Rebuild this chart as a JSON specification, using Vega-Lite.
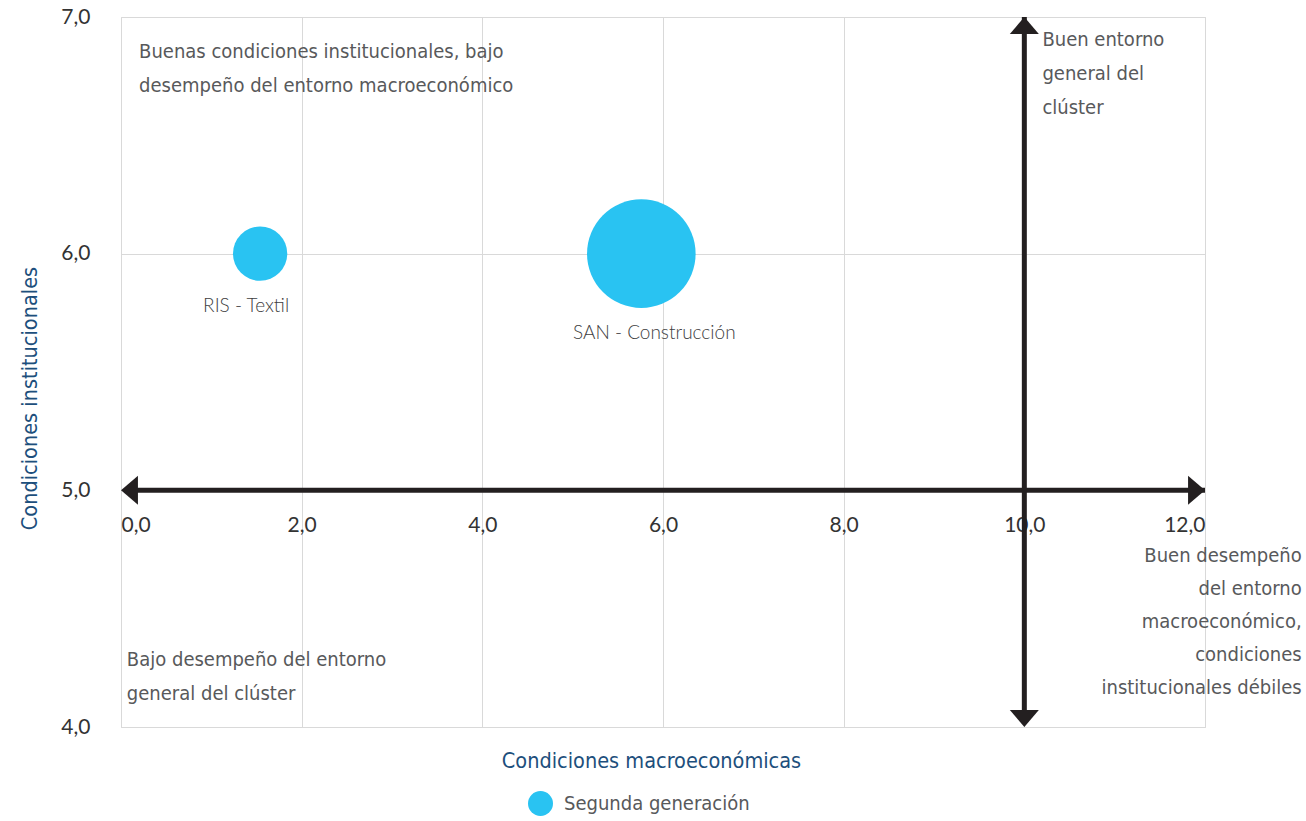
{
  "$schema": "https://vega.github.io/schema/vega-lite/v6.json",
  "width": 1084,
  "height": 710,
  "autosize": {"type": "none"},
  "padding": {"left": 121, "top": 17, "right": 101, "bottom": 94},
  "background": "white",
  "config": {
    "view": {"stroke": "#d9d9d9", "strokeWidth": 1},
    "axis": {"gridColor": "#d9d9d9", "gridWidth": 1, "labelFont": "Lato", "labelColor": "#333333", "labelFontSize": 21, "titleFont": "DejaVu Sans Condensed, Liberation Sans Narrow, sans-serif", "titleColor": "#1d4f7c", "titleFontSize": 21.5, "titleFontWeight": "normal"}
  },
  "datasets": {
    "clusters": [
      {"cluster": "RIS - Textil", "macro": 1.54, "inst": 6.0, "tam": 1, "generacion": "Segunda generación"},
      {"cluster": "SAN - Construcción", "macro": 5.76, "inst": 6.0, "tam": 4, "generacion": "Segunda generación"}
    ],
    "cuadrantes_izq": [
      {"texto": "Buenas condiciones institucionales, bajo\ndesempeño del entorno macroeconómico", "x": 0.2, "y": 6.895},
      {"texto": "Buen entorno\ngeneral del\nclúster", "x": 10.2, "y": 6.945},
      {"texto": "Bajo desempeño del entorno\ngeneral del clúster", "x": 0.065, "y": 4.325}
    ],
    "cuadrantes_der": [
      {"texto": "Buen desempeño\ndel entorno\nmacroeconómico,\ncondiciones\ninstitucionales débiles", "x": 13.07, "y": 4.765}
    ]
  },
  "data": {"name": "clusters"},
  "resolve": {"axis": {"x": "independent"}},
  "layer": [
    {
      "mark": {"type": "circle", "opacity": 1},
      "encoding": {
        "x": {"field": "macro", "type": "quantitative", "scale": {"domain": [0, 12], "nice": false, "zero": false},
          "axis": {"orient": "bottom", "grid": true, "labels": false, "ticks": false, "domain": false, "values": [0, 2, 4, 6, 8, 10, 12],
            "title": "Condiciones macroeconómicas", "titleX": 530, "titleY": 34, "titleAlign": "center", "titleBaseline": "middle", "titleAnchor": null}},
        "y": {"field": "inst", "type": "quantitative", "scale": {"domain": [4, 7], "nice": false, "zero": false},
          "axis": {"values": [4, 5, 6, 7], "grid": true, "ticks": false, "domain": false, "labelPadding": 31,
            "labelExpr": "replace(format(datum.value, '.1f'), '.', ',')",
            "title": "Condiciones institucionales", "titleX": -91, "titleY": 381, "titleAngle": 270, "titleAlign": "center", "titleBaseline": "middle", "titleAnchor": null}},
        "size": {"field": "tam", "type": "quantitative", "scale": {"domain": [0, 4], "range": [0, 11800]}, "legend": null},
        "color": {"field": "generacion", "type": "nominal", "scale": {"range": ["#29C3F2"]},
          "legend": {"orient": "none", "legendX": 407, "legendY": 774, "title": null, "symbolType": "circle", "symbolSize": 625, "symbolStrokeWidth": 0, "symbolOpacity": 1, "symbolFillColor": "#0FB2EC",
            "labelFont": "DejaVu Sans Condensed, Liberation Sans Narrow, sans-serif", "labelFontSize": 20, "labelColor": "#58595b", "labelOffset": 11, "labelLimit": 400}}
      }
    },
    {
      "data": {"values": [{}]},
      "mark": {"type": "rule", "color": "#231f20", "strokeWidth": 5},
      "encoding": {
        "x": {"datum": 0, "type": "quantitative",
          "axis": {"orient": "bottom", "offset": -237, "grid": false, "ticks": false, "domain": false, "title": null, "values": [0, 2, 4, 6, 8, 10, 12],
            "labelPadding": 24, "labelExpr": "replace(format(datum.value, '.1f'), '.', ',')"}},
        "x2": {"datum": 12},
        "y": {"datum": 5, "type": "quantitative"},
        "xOffset": {"value": 10},
        "x2Offset": {"value": -10}
      }
    },
    {
      "data": {"values": [{}]},
      "mark": {"type": "rule", "color": "#231f20", "strokeWidth": 5},
      "encoding": {
        "x": {"datum": 10, "type": "quantitative", "axis": null},
        "y": {"datum": 4, "type": "quantitative"},
        "y2": {"datum": 7},
        "yOffset": {"value": -10},
        "y2Offset": {"value": 10}
      }
    },
    {
      "data": {"values": [{}]},
      "mark": {"type": "point", "filled": true, "opacity": 1, "color": "#231f20", "strokeWidth": 0, "size": 841, "shape": "M -1 0 L 0.17 -1 L 0.17 1 Z"},
      "encoding": {"x": {"datum": 0, "type": "quantitative", "axis": null}, "y": {"datum": 5, "type": "quantitative"}, "xOffset": {"value": 14.5}}
    },
    {
      "data": {"values": [{}]},
      "mark": {"type": "point", "filled": true, "opacity": 1, "color": "#231f20", "strokeWidth": 0, "size": 841, "shape": "M 1 0 L -0.17 -1 L -0.17 1 Z"},
      "encoding": {"x": {"datum": 12, "type": "quantitative", "axis": null}, "y": {"datum": 5, "type": "quantitative"}, "xOffset": {"value": -14.5}}
    },
    {
      "data": {"values": [{}]},
      "mark": {"type": "point", "filled": true, "opacity": 1, "color": "#231f20", "strokeWidth": 0, "size": 841, "shape": "M 0 -1 L -1 0.17 L 1 0.17 Z"},
      "encoding": {"x": {"datum": 10, "type": "quantitative", "axis": null}, "y": {"datum": 7, "type": "quantitative"}, "yOffset": {"value": 14.5}}
    },
    {
      "data": {"values": [{}]},
      "mark": {"type": "point", "filled": true, "opacity": 1, "color": "#231f20", "strokeWidth": 0, "size": 841, "shape": "M 0 1 L -1 -0.17 L 1 -0.17 Z"},
      "encoding": {"x": {"datum": 10, "type": "quantitative", "axis": null}, "y": {"datum": 4, "type": "quantitative"}, "yOffset": {"value": -14.5}}
    },
    {
      "data": {"name": "cuadrantes_izq"},
      "mark": {"type": "text", "align": "left", "baseline": "top", "font": "DejaVu Sans Condensed, Liberation Sans Narrow, sans-serif", "fontSize": 20, "lineHeight": 34, "color": "#58595b", "lineBreak": "\n"},
      "encoding": {
        "x": {"field": "x", "type": "quantitative", "axis": null},
        "y": {"field": "y", "type": "quantitative"},
        "text": {"field": "texto"}
      }
    },
    {
      "data": {"name": "cuadrantes_der"},
      "mark": {"type": "text", "align": "right", "baseline": "top", "font": "DejaVu Sans Condensed, Liberation Sans Narrow, sans-serif", "fontSize": 20, "lineHeight": 33, "color": "#58595b", "lineBreak": "\n"},
      "encoding": {
        "x": {"field": "x", "type": "quantitative", "axis": null},
        "y": {"field": "y", "type": "quantitative"},
        "text": {"field": "texto"}
      }
    },
    {
      "transform": [{"filter": "datum.cluster === 'RIS - Textil'"}],
      "mark": {"type": "text", "align": "center", "baseline": "middle", "font": "Lato", "fontWeight": 300, "fontSize": 19, "color": "#404041", "dy": 52, "dx": -14},
      "encoding": {
        "x": {"field": "macro", "type": "quantitative", "axis": null},
        "y": {"field": "inst", "type": "quantitative"},
        "text": {"field": "cluster"}
      }
    },
    {
      "transform": [{"filter": "datum.cluster === 'SAN - Construcción'"}],
      "mark": {"type": "text", "align": "center", "baseline": "middle", "font": "Lato", "fontWeight": 300, "fontSize": 19, "color": "#404041", "dy": 79, "dx": 13},
      "encoding": {
        "x": {"field": "macro", "type": "quantitative", "axis": null},
        "y": {"field": "inst", "type": "quantitative"},
        "text": {"field": "cluster"}
      }
    }
  ]
}
